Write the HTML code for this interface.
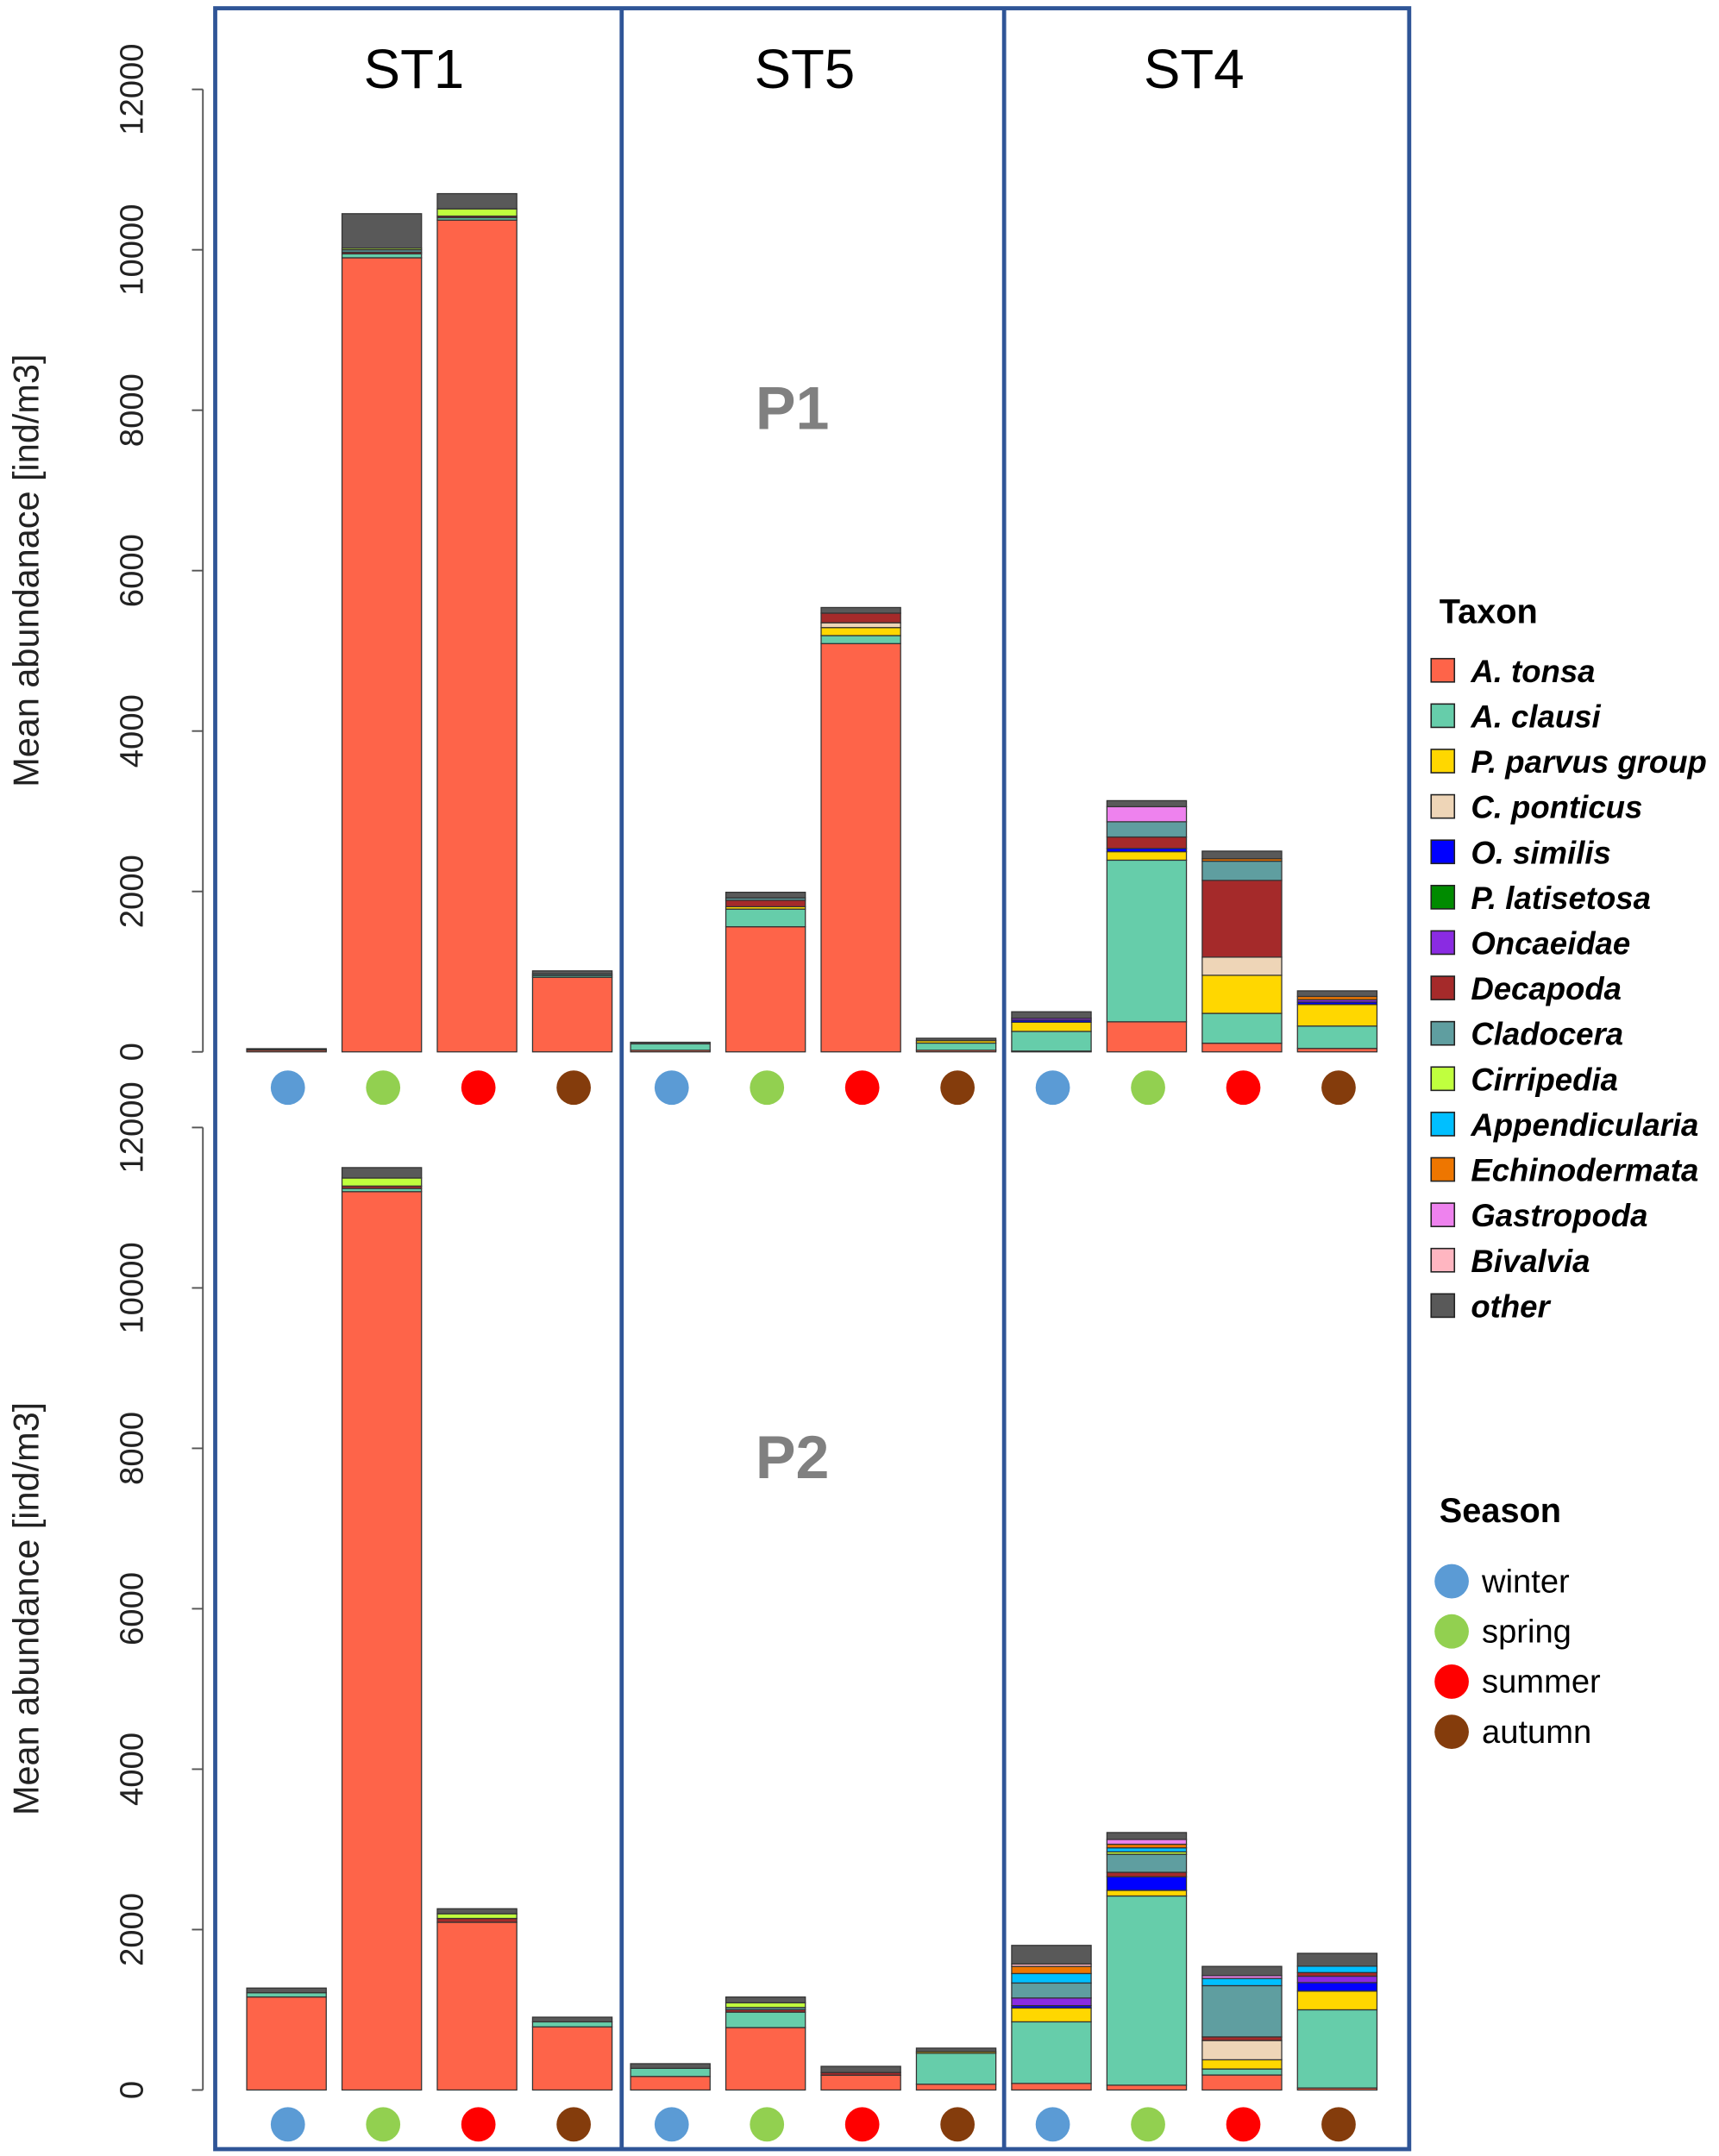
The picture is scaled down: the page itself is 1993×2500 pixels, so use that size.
<!DOCTYPE html>
<html><head><meta charset="utf-8"><style>
html,body{margin:0;padding:0;background:#fff}
svg{display:block}
text{font-family:"Liberation Sans",sans-serif}
</style></head><body>
<svg id="chart" xmlns="http://www.w3.org/2000/svg" width="1993" height="2500" viewBox="0 0 1254 1568" preserveAspectRatio="none">
<g id="frame">
<rect x="157" y="6" width="871" height="1557" fill="none" stroke="#2F5597" stroke-width="3"/>
<line x1="453.5" y1="6" x2="453.5" y2="1563" stroke="#2F5597" stroke-width="3"/>
<line x1="732.5" y1="6" x2="732.5" y2="1563" stroke="#2F5597" stroke-width="3"/>
</g>
<text x="302" y="64" font-size="40" text-anchor="middle">ST1</text>
<text x="587" y="64" font-size="40" text-anchor="middle">ST5</text>
<text x="871" y="64" font-size="40" text-anchor="middle">ST4</text>
<text x="578" y="312" font-size="44" font-weight="bold" fill="#808080" text-anchor="middle">P1</text>
<text x="578" y="1075" font-size="44" font-weight="bold" fill="#808080" text-anchor="middle">P2</text>
<text transform="translate(28,415) rotate(-90)" font-size="26" text-anchor="middle" fill="#222">Mean abundanace [ind/m3]</text>
<text transform="translate(28,1170) rotate(-90)" font-size="26" text-anchor="middle" fill="#222">Mean abundance [ind/m3]</text>
<g id="axes"></g>
<g id="bars"></g>
<g id="dots"></g>
<g id="legend">
<text x="1050" y="453" font-size="25" font-weight="bold">Taxon</text>
<text x="1050" y="1107" font-size="25" font-weight="bold">Season</text>
</g>
</svg>
<script>
const taxa = ["A. tonsa","A. clausi","P. parvus group","C. ponticus","O. similis","P. latisetosa","Oncaeidae","Decapoda","Cladocera","Cirripedia","Appendicularia","Echinodermata","Gastropoda","Bivalvia","other"];
const taxonColors = ["#FE6449","#66CDAA","#FFD700","#EED5B7","#0000FF","#008B00","#8A2BE2","#A52A2A","#5F9EA0","#C0FF3E","#00BFFF","#EE7600","#EE82EE","#FFB6C1","#595959"];
const seasons = ["winter","spring","summer","autumn"];
const seasonColors = ["#5B9BD5","#92D050","#FF0000","#843C0C"];
const stations = ["ST1","ST5","ST4"];
const yTicks = [0,2000,4000,6000,8000,10000,12000];
const p1ST1 = [
 [20,0,10,0,0,0,0,0,0,0,0,0,0,0,10],
 [9900,50,0,0,0,0,0,20,30,20,0,0,0,0,430],
 [10370,30,0,0,0,0,0,20,0,90,0,0,0,0,190],
 [930,20,0,0,0,0,0,0,20,0,0,0,0,0,40]];
const p1ST5 = [
 [20,80,0,0,0,0,0,0,0,0,0,0,0,0,20],
 [1560,220,30,0,0,0,0,80,30,0,0,0,0,0,70],
 [5090,100,100,60,0,0,0,120,0,0,0,0,0,0,70],
 [20,90,30,0,0,0,0,0,0,0,0,0,0,0,30]];
const p1ST4 = [
 [10,245,115,0,25,0,25,0,0,0,0,0,0,0,80],
 [375,2015,106,0,40,0,0,143,190,0,0,0,188,0,75],
 [108,372,475,226,0,0,0,957,240,0,0,30,0,0,95],
 [43,279,269,0,30,0,30,0,0,0,0,40,0,0,70]];
const p2ST1 = [
 [1160,53,0,0,0,0,0,0,0,0,0,0,0,0,58],
 [11200,40,0,0,0,0,0,30,0,100,0,0,0,0,130],
 [2091,0,0,0,0,0,0,48,0,58,0,0,0,0,63],
 [787,63,0,0,0,0,0,0,0,0,0,0,0,0,58]];
const p2ST5 = [
 [169,101,0,0,0,0,0,0,0,0,0,0,0,0,58],
 [778,193,0,0,0,0,0,30,28,58,0,0,0,0,72],
 [184,0,0,0,0,0,0,34,0,0,0,0,0,0,77],
 [72,386,20,0,0,0,0,0,0,0,0,0,0,0,44]];
const p2ST4 = [
 [82,768,172,0,30,0,95,0,187,0,118,89,0,30,232],
 [60,2359,70,0,170,0,0,55,225,30,50,45,60,0,86],
 [187,75,115,240,0,0,0,45,639,0,90,0,35,0,115],
 [25,975,233,0,106,0,80,45,0,0,80,0,0,0,160]];

const NS="http://www.w3.org/2000/svg";
const panels=[{base:765,top:65,data:[p1ST1,p1ST5,p1ST4],dotY:791,name:"p1"},{base:1520,top:820,data:[p2ST1,p2ST5,p2ST4],dotY:1545,name:"p2"}];
const stationX=[180,460,738], barStep=69.5, barW=58;
function yScale(p,v){return p.base-(v/12000)*(p.base-p.top);}
function mk(tag,attrs,parent){const e=document.createElementNS(NS,tag);for(const k in attrs)e.setAttribute(k,attrs[k]);parent.appendChild(e);return e;}
const axes=document.getElementById('axes'),bars=document.getElementById('bars'),dots=document.getElementById('dots'),legend=document.getElementById('legend');
panels.forEach(p=>{
  const ax=mk('line',{x1:148,x2:148,y1:yScale(p,0),y2:yScale(p,12000),stroke:'#555','stroke-width':1.2},axes);
  
  
  yTicks.forEach(t=>{
    const y=yScale(p,t);
    const tk=mk('line',{x1:140,x2:148,y1:y,y2:y,stroke:'#555','stroke-width':1.2},axes);
    
    
    const lb=mk('text',{transform:`translate(104,${y}) rotate(-90)`,'font-size':24,'text-anchor':'middle',fill:'#222'},axes);
    lb.textContent=t;
    
    
  });
  p.data.forEach((st,si)=>{
    st.forEach((vals,bi)=>{
      const x=stationX[si]+bi*barStep;
      let cum=0;
      vals.forEach((v,ti)=>{
        if(v<=0)return;
        const y1=yScale(p,cum+v),y0=yScale(p,cum);
        const r=mk('rect',{x:x,y:y1,width:barW,height:Math.max(0.5,y0-y1),fill:taxonColors[ti],stroke:'#333','stroke-width':0.8},bars);
        
        
        cum+=v;
      });
      const c=mk('circle',{cx:x+barW/2+1,cy:p.dotY,r:12.5,fill:seasonColors[bi]},dots);
      
      
    });
  });
});
taxa.forEach((t,i)=>{
  const y=488+i*33;
  const sq=mk('rect',{x:1044,y:y-9,width:17,height:17,fill:taxonColors[i],stroke:'#222','stroke-width':1},legend);
  
  
  const tx=mk('text',{x:1073,y:y+8,'font-size':23,'font-style':'italic','font-weight':'bold'},legend);
  tx.textContent=t;
  
  
});
seasons.forEach((s,i)=>{
  const y=1150+i*36.5;
  const c=mk('circle',{cx:1059,cy:y,r:12.5,fill:seasonColors[i]},legend);
  
  
  const tx=mk('text',{x:1081,y:y+8,'font-size':24},legend);
  tx.textContent=s;
  
  
});
</script>
</body></html>
